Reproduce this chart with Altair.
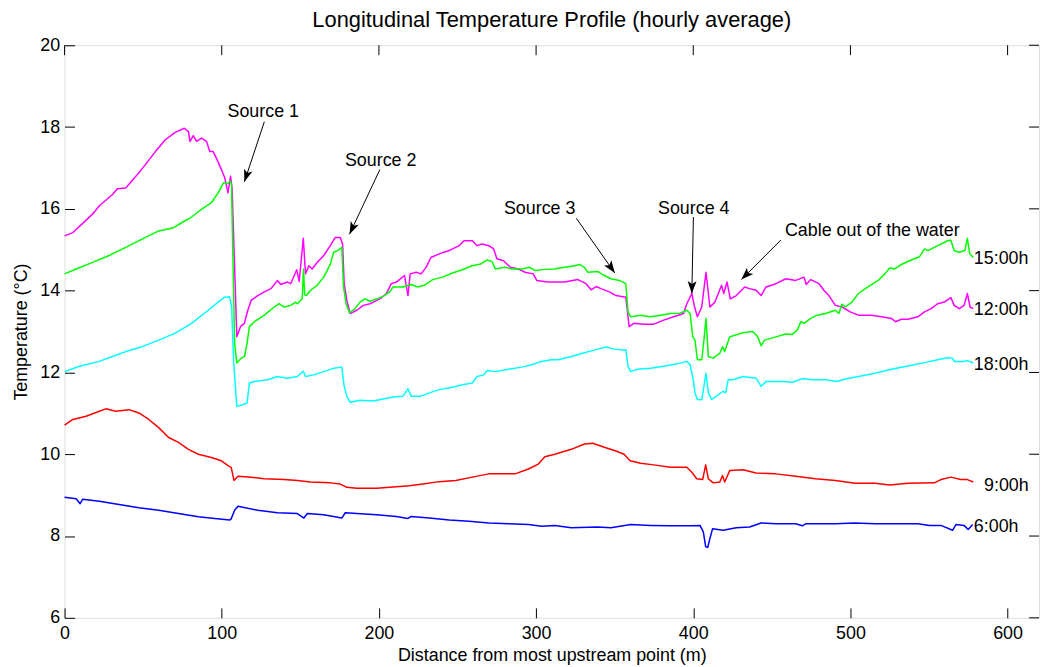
import math
import altair as alt
import pandas as pd

FONT = "Liberation Sans"

# ---------------- data (distance m, temperature °C) ----------------
blue_6h = [(0, 8.95), (7.4, 8.91), (9.9, 8.79), (11.5, 8.90), (22.1, 8.85), (34.7, 8.77), (47.3, 8.69),
           (59.9, 8.63), (72.5, 8.55), (85.1, 8.47), (95.6, 8.43), (105, 8.39), (106, 8.42), (108.2, 8.63),
           (110.3, 8.73), (122.9, 8.63), (135.5, 8.57), (148.1, 8.55), (152.3, 8.44), (154.4, 8.55),
           (164.9, 8.52), (176.4, 8.44), (178.6, 8.57), (185.9, 8.55), (198.5, 8.52), (211.1, 8.48),
           (218.5, 8.43), (220.5, 8.48), (232.1, 8.44), (244.7, 8.39), (257.3, 8.36), (269.9, 8.32),
           (282.5, 8.30), (295.1, 8.28), (303.5, 8.24), (311.9, 8.26), (322.4, 8.20), (339.2, 8.22),
           (347.6, 8.20), (360.2, 8.28), (372.8, 8.26), (385.4, 8.25), (398, 8.25), (404.3, 8.26),
           (406.4, 8.10), (407.9, 7.74), (409.2, 7.72), (410.6, 7.94), (412.3, 8.18), (419, 8.14),
           (427.4, 8.20), (435.8, 8.22), (443.2, 8.32), (452.6, 8.30), (465.2, 8.30), (469.4, 8.25),
           (471.5, 8.30), (490.4, 8.30), (503, 8.32), (515.6, 8.30), (528.2, 8.30), (542.9, 8.30),
           (550.3, 8.26), (557.6, 8.26), (565, 8.14), (567.1, 8.28), (572.3, 8.26), (574.9, 8.16),
           (577.8, 8.28)]

red_9h = [(0, 10.71), (5.3, 10.85), (13.7, 10.93), (22.1, 11.05), (26.3, 11.11), (32.6, 11.05), (41, 11.09),
          (47.3, 11.01), (53.6, 10.85), (59.9, 10.65), (66.2, 10.41), (72.5, 10.29), (78.8, 10.12),
          (85.1, 10.00), (93.4, 9.92), (99.8, 9.84), (104, 9.72), (106, 9.68), (107.8, 9.36), (110.3, 9.46),
          (118.6, 9.44), (127.1, 9.40), (139.7, 9.38), (148.1, 9.36), (156.5, 9.32), (169.1, 9.30),
          (175.4, 9.27), (179.6, 9.19), (185.9, 9.17), (198.5, 9.17), (206.9, 9.19), (219.5, 9.23),
          (227.9, 9.27), (238.4, 9.33), (248.9, 9.36), (259.4, 9.44), (269.9, 9.52), (280.4, 9.52),
          (286.7, 9.52), (295.1, 9.64), (301.4, 9.76), (305.6, 9.94), (311.9, 10.00), (322.4, 10.12),
          (330.8, 10.25), (336, 10.27), (343.4, 10.17), (350.8, 10.08), (356, 10.00), (359.8, 9.84),
          (366.5, 9.78), (374.9, 9.74), (385.4, 9.68), (395.9, 9.68), (399.1, 9.56), (402.2, 9.40),
          (406, 9.38), (407.9, 9.74), (409.6, 9.40), (412.7, 9.30), (416.9, 9.32), (418.6, 9.48),
          (420, 9.32), (423.2, 9.60), (431.6, 9.62), (440, 9.54), (452.6, 9.52), (465.2, 9.46),
          (477.8, 9.40), (490.4, 9.36), (503, 9.29), (515.6, 9.29), (525.1, 9.25), (536.6, 9.29),
          (553.4, 9.30), (557.6, 9.38), (563.9, 9.44), (570.2, 9.38), (574.4, 9.38), (578.2, 9.32)]

magenta_12h = [(0, 15.34), (5.3, 15.42), (17.8, 15.87), (22, 16.07), (30.5, 16.35), (33.6, 16.49),
               (38.9, 16.51), (47.3, 16.88), (57.8, 17.40), (64.1, 17.69), (70.4, 17.87), (76.2, 17.97),
               (78.8, 17.89), (79.8, 17.65), (81.9, 17.79), (84, 17.65), (87.1, 17.73), (90.3, 17.65),
               (92.4, 17.40), (94.5, 17.40), (96.6, 17.24), (99.8, 16.96), (101.9, 16.76), (104, 16.39),
               (105.6, 16.80), (106.6, 16.5), (109.6, 12.87), (111.9, 13.12), (114.4, 13.20), (116.6, 13.52),
               (118.7, 13.76), (122.9, 13.88), (127.1, 13.97), (131.3, 14.05), (135.5, 14.25), (137.6, 14.15),
               (141.8, 14.21), (143.9, 14.17), (147.7, 14.51), (149.3, 14.23), (151.9, 15.28), (153.3, 14.41),
               (155.4, 14.61), (157.5, 14.53), (160.7, 14.69), (164.9, 14.86), (169.1, 15.10), (172.2, 15.30),
               (175.4, 15.30), (176.9, 15.14), (177.9, 14.17), (179.6, 13.76), (181.7, 13.44), (185.9, 13.52),
               (190.1, 13.64), (194.3, 13.68), (200.6, 13.80), (204.8, 13.93), (207.9, 14.17), (211.1, 14.21),
               (216.3, 14.37), (218.5, 13.88), (219.9, 14.41), (223.7, 14.45), (226.8, 14.41), (230, 14.57),
               (233.1, 14.81), (238.4, 14.90), (244.7, 14.98), (251, 15.10), (254.1, 15.22), (259.4, 15.22),
               (262.5, 15.10), (265.7, 15.14), (269.9, 15.10), (273, 15.02), (275.1, 14.78), (279.3, 14.73),
               (283.6, 14.57), (288.8, 14.53), (293, 14.45), (298.2, 14.41), (300.4, 14.25), (307.7, 14.21),
               (318.2, 14.21), (326.6, 14.27), (331.8, 14.17), (335, 14.02), (338.2, 14.10), (341.3, 14.05),
               (346.6, 13.97), (350.8, 13.88), (357.1, 13.84), (359.2, 13.12), (362.3, 13.20), (368.6, 13.18),
               (374.9, 13.18), (381.2, 13.28), (387.5, 13.36), (393.8, 13.44), (395.9, 13.68), (399.1, 13.93),
               (400.6, 13.64), (402.6, 13.36), (405.4, 13.60), (408.1, 14.45), (410.6, 13.60), (413.8, 13.72),
               (418, 14.13), (419.4, 13.93), (421.5, 14.21), (423.6, 13.80), (427.4, 13.88), (432.7, 14.09),
               (435.8, 14.05), (440, 14.01), (443.2, 13.88), (446.3, 14.09), (452.6, 14.17), (458.9, 14.29),
               (465.2, 14.25), (470.5, 14.33), (471.9, 14.15), (474.7, 14.27), (480, 14.17), (483.1, 14.01),
               (486.3, 13.88), (490.4, 13.64), (494.6, 13.60), (499.9, 13.48), (505.1, 13.40), (513.5, 13.40),
               (519.8, 13.36), (526.1, 13.32), (528.7, 13.24), (532.4, 13.30), (536.6, 13.30), (542.9, 13.36),
               (547.1, 13.48), (551.3, 13.56), (555.5, 13.68), (559.7, 13.72), (563.9, 13.83), (566, 13.64),
               (569.2, 13.56), (572.3, 13.64), (574.4, 13.93), (576.1, 13.60), (578.2, 13.56)]

green_15h = [(0, 14.41), (7.4, 14.53), (17.8, 14.69), (28.4, 14.86), (38.9, 15.06), (49.3, 15.26), (59.9, 15.46),
             (69.3, 15.54), (74.5, 15.66), (80.8, 15.80), (87.1, 15.99), (93.4, 16.15), (97.7, 16.39),
             (101.2, 16.64), (104, 16.62), (105.4, 16.68), (106.2, 16.6), (108.2, 12.71), (109.6, 12.23),
             (112.4, 12.35), (114.5, 12.39), (116.1, 12.71), (117.6, 13.12), (120.8, 13.24), (127.1, 13.40),
             (133.4, 13.60), (136.5, 13.68), (139.7, 13.60), (143.9, 13.64), (147, 13.72), (148.1, 13.68),
             (151.2, 13.80), (152, 14.53), (152.8, 13.9), (153.9, 13.88), (156.5, 14.01), (160.7, 14.13),
             (164.9, 14.33), (169.1, 14.65), (171.2, 14.94), (174.3, 14.99), (176.4, 15.06), (177.5, 14.09),
             (179.1, 13.68), (181.3, 13.46), (184.8, 13.56), (188, 13.72), (191.1, 13.80), (194.3, 13.74),
             (198.5, 13.80), (202.7, 13.86), (206.9, 13.97), (209, 14.09), (215.3, 14.09), (220.5, 14.15),
             (224.7, 14.09), (228.9, 14.13), (234.2, 14.27), (240.5, 14.33), (246.8, 14.43), (253.1, 14.51),
             (259.4, 14.61), (264.7, 14.65), (268.9, 14.75), (272, 14.71), (274.1, 14.53), (280.4, 14.57),
             (284.6, 14.53), (290.9, 14.53), (296.1, 14.57), (299.3, 14.49), (305.6, 14.52), (311.9, 14.53),
             (316.1, 14.56), (324.5, 14.61), (327.7, 14.64), (330.8, 14.57), (332.9, 14.45), (339.2, 14.47),
             (343.4, 14.37), (347.6, 14.29), (352.9, 14.25), (357.1, 14.17), (358.5, 13.48), (360.2, 13.36),
             (366.5, 13.40), (372.8, 13.36), (379.1, 13.40), (385.4, 13.44), (391.7, 13.45), (395.9, 13.52),
             (398, 13.44), (399.7, 12.87), (401.1, 12.79), (402.6, 12.31), (405.4, 12.31), (406.8, 12.79),
             (408.1, 13.32), (409.6, 12.39), (412.7, 12.35), (416.9, 12.47), (418.6, 12.63), (420, 12.51),
             (423.2, 12.87), (426.4, 12.91), (431.6, 12.97), (437.9, 13.00), (441, 12.87), (443.2, 12.65),
             (445.3, 12.79), (452.6, 12.87), (458.9, 12.94), (463.1, 12.93), (466.3, 13.04), (468.4, 13.24),
             (470.5, 13.20), (474.7, 13.32), (478.9, 13.40), (484.1, 13.44), (490.4, 13.52), (492.6, 13.44),
             (494.6, 13.67), (496.7, 13.60), (500.9, 13.72), (505.1, 13.93), (511.4, 14.10), (517.7, 14.25),
             (521.9, 14.41), (525.1, 14.56), (528.2, 14.53), (532.4, 14.64), (538.7, 14.75), (544, 14.83),
             (547.1, 15.02), (549.3, 14.98), (555.5, 15.10), (561.8, 15.22), (563.9, 15.23), (566, 14.98),
             (569.2, 14.94), (572.8, 14.98), (574.4, 15.28), (575.9, 14.90), (578.2, 14.81)]

cyan_18h = [(0, 12.02), (9.5, 12.15), (22.1, 12.27), (30.4, 12.39), (38.9, 12.51), (49.3, 12.63), (59.9, 12.79),
            (70.4, 12.96), (80.8, 13.20), (91.4, 13.52), (97.7, 13.72), (101.9, 13.84), (105, 13.85),
            (106.3, 13.6), (107.6, 12.23), (109.6, 11.17), (113.4, 11.21), (116.1, 11.25), (117.6, 11.74),
            (120.8, 11.78), (129.2, 11.82), (135.5, 11.90), (141.8, 11.86), (148.1, 11.90), (151.9, 12.03),
            (153.3, 11.90), (158.6, 11.94), (164.9, 12.02), (171.2, 12.10), (176.4, 12.13), (177.9, 11.66),
            (179.6, 11.42), (181.7, 11.27), (188, 11.32), (196.4, 11.30), (202.7, 11.35), (209, 11.40),
            (215.3, 11.42), (218.5, 11.60), (220.5, 11.42), (226.8, 11.42), (232.1, 11.50), (238.4, 11.58),
            (246.8, 11.64), (253.1, 11.70), (259.4, 11.74), (262.5, 11.90), (266.7, 11.94), (268.9, 12.05),
            (274.1, 12.02), (282.5, 12.08), (290.9, 12.13), (297.2, 12.19), (303.5, 12.27), (309.8, 12.31),
            (314, 12.31), (322.4, 12.39), (330.8, 12.48), (339.2, 12.57), (344.4, 12.62), (349.7, 12.57),
            (354.9, 12.55), (357.1, 12.55), (358.5, 12.15), (360.2, 12.02), (364.4, 12.08), (372.8, 12.10),
            (381.2, 12.15), (389.6, 12.21), (395.9, 12.27), (398, 12.19), (400, 11.82), (401.1, 11.50),
            (402.6, 11.34), (405.4, 11.33), (408.1, 11.98), (409.6, 11.50), (411.6, 11.34), (414.8, 11.42),
            (419, 11.54), (420.6, 11.50), (422.2, 11.82), (425.3, 11.82), (431.6, 11.90), (440, 11.86),
            (443.2, 11.66), (446.3, 11.78), (456.8, 11.78), (463.1, 11.76), (469.4, 11.85), (475.7, 11.82),
            (484.1, 11.82), (491.5, 11.78), (496.7, 11.84), (505.1, 11.90), (515.6, 11.98), (526.1, 12.08),
            (536.6, 12.16), (547.1, 12.24), (555.5, 12.31), (561.8, 12.36), (565, 12.35), (566, 12.27),
            (572.3, 12.27), (574.4, 12.29), (578.2, 12.23)]

series_names = ["6:00h", "9:00h", "12:00h", "15:00h", "18:00h"]
series_points = [blue_6h, red_9h, magenta_12h, green_15h, cyan_18h]
series_colors = ["#0000ff", "#ff0000", "#ff00ff", "#00ff00", "#00ffff"]

# end-of-line labels
end_labels = ["15:00h", "12:00h", "18:00h", "9:00h", "6:00h"]
end_label_x = [578.5, 578.5, 578.5, 585.0, 578.5]
end_label_y = [14.65, 13.40, 12.07, 9.11, 8.09]

# annotations: text and arrows (tail -> head)
ann_text = ["Source 1", "Source 2", "Source 3", "Source 4", "Cable out of the water"]
ann_text_x = [126.4, 201.1, 302.3, 400.3, 513.9]
ann_text_y = [18.25, 17.04, 15.875, 15.875, 15.34]
arrow_tail_x = [127.1, 200.6, 325.6, 400.1, 455.8]
arrow_tail_y = [18.13, 16.96, 15.77, 15.80, 15.24]
arrow_head_x = [114.4, 181.3, 350.1, 399.1, 430.6]
arrow_head_y = [16.66, 15.38, 14.43, 13.93, 14.27]

x_ticks = [0, 100, 200, 300, 400, 500, 600]
y_ticks = [6, 8, 10, 12, 14, 16, 18, 20]
X_DOMAIN = [0, 620]
Y_DOMAIN = [6, 20]

W, H = 982, 577
TICK = 10

# ---------------- chart ----------------
xscale = alt.Scale(domain=X_DOMAIN, nice=False, zero=False)
yscale = alt.Scale(domain=Y_DOMAIN, nice=False, zero=False)

xaxis = alt.Axis(values=x_ticks, offset=-TICK, tickSize=TICK, tickColor="black", tickWidth=1,
                 domain=False, grid=False, labelFont=FONT, labelFontSize=18, labelColor="black",
                 labelPadding=7, labelFlush=False, title="Distance from most upstream point (m)",
                 titleFont=FONT, titleFontSize=18, titleFontWeight="normal", titleColor="black",
                 titlePadding=4)
yaxis = alt.Axis(values=y_ticks, offset=-TICK, tickSize=TICK, tickColor="black", tickWidth=1,
                 domain=False, grid=False, labelFont=FONT, labelFontSize=18, labelColor="black",
                 labelPadding=5, labelFlush=False, title="Temperature (°C)",
                 titleFont=FONT, titleFontSize=18, titleFontWeight="normal", titleColor="black",
                 titlePadding=9)


def X(field):
    return alt.X(field, type="quantitative", scale=xscale, axis=xaxis)


def Y(field):
    return alt.Y(field, type="quantitative", scale=yscale, axis=yaxis)


layers = []
for name, pts, col in zip(series_names, series_points, series_colors):
    d = pd.DataFrame({"distance": [p[0] for p in pts], "temp": [p[1] for p in pts]})
    layers.append(
        alt.Chart(d).mark_line(color=col, strokeWidth=1.5, strokeJoin="round")
        .encode(x=X("distance"), y=Y("temp"))
    )

# top and right inward ticks (MATLAB box style)
top_df = pd.DataFrame({"t": x_ticks})
layers.append(alt.Chart(top_df).mark_rule(color="black", strokeWidth=1)
              .encode(x=X("t"), y=alt.value(0), y2=alt.value(TICK)))
right_df = pd.DataFrame({"t": y_ticks})
layers.append(alt.Chart(right_df).mark_rule(color="black", strokeWidth=1)
              .encode(y=Y("t"), x=alt.value(W - TICK), x2=alt.value(W)))

# arrows
PXX = W / (X_DOMAIN[1] - X_DOMAIN[0])
PXY = H / (Y_DOMAIN[1] - Y_DOMAIN[0])
angles = []
for tx, ty, hx, hy in zip(arrow_tail_x, arrow_tail_y, arrow_head_x, arrow_head_y):
    dx = (hx - tx) * PXX
    dy = -(hy - ty) * PXY
    angles.append(math.degrees(math.atan2(dx, -dy)) % 360)
arr_df = pd.DataFrame({"tx": arrow_tail_x, "ty": arrow_tail_y, "hx": arrow_head_x,
                       "hy": arrow_head_y, "ang": angles})
layers.append(alt.Chart(arr_df).mark_rule(color="black", strokeWidth=1)
              .encode(x=X("tx"), y=Y("ty"), x2="hx", y2="hy"))
ARROW_SHAPE = "M0,0 L0.9,2.5 L0,1.9 L-0.9,2.5 Z"
layers.append(alt.Chart(arr_df).mark_point(shape=ARROW_SHAPE, filled=True, color="black",
                                           size=100, opacity=1, strokeWidth=0)
              .encode(x=X("hx"), y=Y("hy"), angle=alt.Angle("ang:Q", scale=None)))

# annotation texts
ann_df = pd.DataFrame({"label": ann_text, "x": ann_text_x, "y": ann_text_y})
layers.append(alt.Chart(ann_df).mark_text(font=FONT, fontSize=18, color="black", align="center",
                                          baseline="alphabetic")
              .encode(x=X("x"), y=Y("y"), text="label:N"))

lab_df = pd.DataFrame({"label": end_labels, "x": end_label_x, "y": end_label_y})
layers.append(alt.Chart(lab_df).mark_text(font=FONT, fontSize=18, color="black", align="left",
                                          baseline="alphabetic")
              .encode(x=X("x"), y=Y("y"), text="label:N"))

chart = (
    alt.layer(*layers)
    .properties(
        width=W, height=H,
        autosize=alt.AutoSizeParams(type="none"),
        padding={"left": 57, "top": 35, "right": 4, "bottom": 46},
        title=alt.TitleParams("Longitudinal Temperature Profile (hourly average)", font=FONT,
                              fontSize=22, fontWeight="normal", color="black", anchor="middle",
                              offset=4),
    )
    .configure_view(stroke="black", strokeWidth=1.5)
    .configure(background="white")
)

chart.save("out.html", embed_options={"renderer": "svg", "actions": False})
